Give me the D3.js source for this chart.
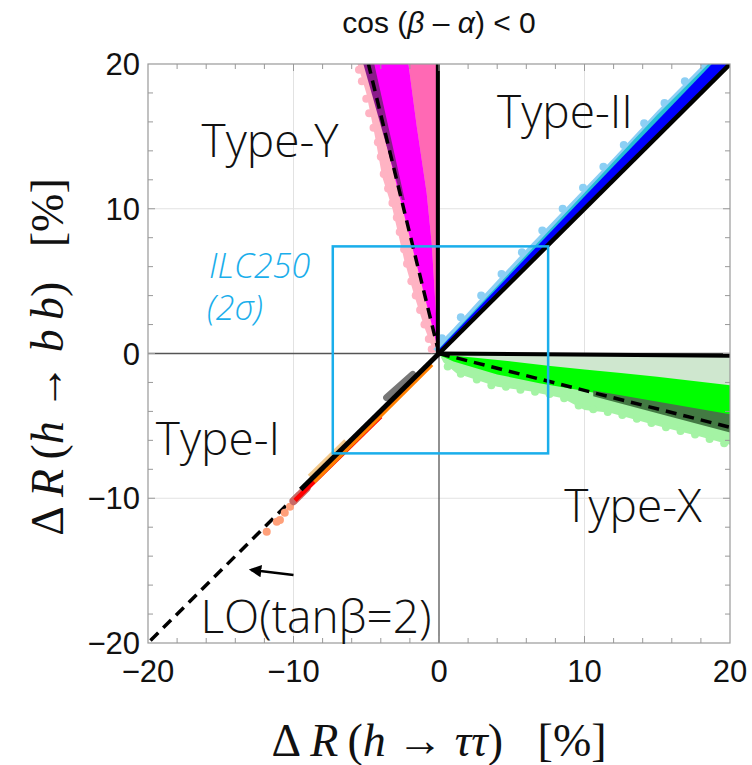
<!DOCTYPE html>
<html><head><meta charset="utf-8">
<script src="https://cdn.jsdelivr.net/npm/d3@7"></script>
<style>body{margin:0;background:#fff}</style>
</head><body>
<svg id="c" width="752" height="765"></svg>
<script>
// ---------- data (values in %) ----------
const xDomain = [-20, 20];
const yDomain = [-20, 20];
const xTickLabels = [-20, -10, 0, 10, 20];
const yTickLabels = [-20, -10, 0, 10, 20];
const gridValues = [-10, 10];

// Type-Y region (upper left)
const typeYPale = [[0,0],[-0.4,0.2],[-1.0,1.8],[-1.7,4],[-2.4,6.5],[-3.2,10],[-3.9,12.2],[-4.4,15],[-5.0,18],[-5.6,20],[0,20]];
const typeYPink = [[0,0],[-0.15,1.85],[-0.5,7.6],[-0.85,11.1],[-1.53,15.7],[-2.1,20],[0,20]];
const typeYMagenta = [[0,0],[-5.0,20],[-2.1,20],[-1.53,15.7],[-0.85,11.1],[-0.5,7.6],[-0.15,1.85]];
const typeYPurple = [[-2.55,10.6],[-5.2,20],[-4.45,20],[-2.35,10.6]];
const typeYDots = [[-5.5,19.6],[-5.3,18.8],[-5.0,17.6],[-4.8,16.6],[-4.5,15.6],[-4.2,14.6],[-4.0,13.6],[-3.8,12.4],[-3.5,11.4],[-3.2,10.4],[-2.9,9.4],[-2.7,8.4],[-2.4,7.2],[-2.2,6.2],[-1.9,5.0],[-1.6,4.0],[-1.3,3.0],[-1.0,2.0],[-0.7,1.0],[-0.5,0.3]];
const typeYLO = [[0,0],[-4.85,20]];

// Type-II region (upper right)
const typeIILight = [[0,0],[-0.4,0.3],[1,1.75],[3,3.95],[6,7.2],[9.8,11.2],[12,13.5],[15,16.75],[18.2,20],[20,20]];
const typeIICyan = [[0,0],[0,0.35],[5,5.75],[10,11.1],[15,16.5],[18.5,20],[20,20]];
const typeIIBlue = [[0,0],[0,0.3],[10,10.85],[18.75,20],[20,20]];
const typeIIDots = [[0.2,1.05],[1.5,2.5],[2.9,4.0],[4.3,5.5],[5.7,7.0],[7.1,8.5],[8.5,10.0],[9.9,11.45],[11.3,12.9],[12.7,14.4],[14.1,15.9],[15.5,17.3],[16.9,18.8],[18.2,20.1]];
const typeIILine = [[0,0],[20,20]];

// Type-X region (lower right)
const typeXPale = [[0,0],[0.3,-0.6],[1.2,-1.37],[4.0,-2.3],[6.25,-2.6],[8.5,-3.1],[10,-3.9],[11.75,-4.1],[15.4,-5.1],[18,-5.75],[20,-6.3],[20,-0.15]];
const typeXShade = [[0,0],[20,-0.15],[20,-2.4],[10,-1.2],[0,-0.1]];
const typeXGreen = [[0,-0.05],[2.5,-0.3],[5,-0.55],[7.5,-0.85],[10,-1.1],[12.5,-1.35],[15,-1.6],[17.5,-1.9],[20,-2.2],[20,-4.3],[15,-3.4],[10.6,-2.7],[6.9,-2.05],[4,-1.45],[1,-0.55],[0,-0.1]];
const typeXDark = [[10.6,-2.55],[20,-4.2],[20,-5.45],[10.6,-2.95]];
const typeXDots = [[0.6,-0.9],[1.5,-1.4],[2.6,-1.8],[3.6,-2.2],[4.6,-2.3],[5.6,-2.5],[6.6,-2.65],[7.6,-2.8],[8.6,-3.1],[9.6,-3.6],[10.6,-3.85],[11.6,-4.05],[12.6,-4.25],[13.6,-4.5],[14.6,-4.8],[15.6,-5.1],[16.6,-5.35],[17.6,-5.6],[18.6,-5.9],[19.6,-6.2]];
const typeXLO = [[0,0],[20,-5.1]];
const typeXLine = [[0,0],[20,-0.15]];
const typeYLine = [[-0.08,0],[-0.08,20]];

// Type-I region (lower left)
const typeIOrange = [[-0.5,-0.75],[-8.6,-8.85]];
const typeIRed = [[-4,-4.35],[-9.9,-10.15]];
const typeITan = [[-6.4,-6.05],[-8.9,-8.5]];
const typeIGray = [[-1.8,-1.45],[-3.6,-3.05]];
const typeIBrown = [[-9.1,-9.3],[-10.0,-10.2]];
const typeILine = [[0,0],[-9.5,-9.4]];
const typeISalmon = [[-10.24,-10.58],[-10.93,-11.5],[-11.15,-11.62],[-11.84,-12.31],[-10.6,-11.0]];
const loLine = [[0,0],[-20,-20]];

// ILC250 2-sigma box
const ilcX = [-7.3, 7.5];
const ilcY = [-6.9, 7.4];

// LO arrow
const arrowFrom = [-10.0, -15.3];
const arrowTo = [-12.9, -14.95];

// ---------- drawing ----------
const svg = d3.select("#c");
const x = d3.scaleLinear().domain(xDomain).range([148, 730]);
const y = d3.scaleLinear().domain(yDomain).range([643, 64]);
const line = d3.line().x(d => x(d[0])).y(d => y(d[1]));
const poly = d3.line().x(d => x(d[0])).y(d => y(d[1])).curve(d3.curveLinearClosed);

svg.append("defs").append("clipPath").attr("id","clip")
  .append("rect").attr("x",148).attr("y",64).attr("width",582).attr("height",579);
svg.select("defs").append("marker").attr("id","arr").attr("viewBox","0 0 10 10")
  .attr("refX",8).attr("refY",5).attr("markerWidth",5).attr("markerHeight",5).attr("orient","auto")
  .append("path").attr("d","M0,0 L10,5 L0,10 z").attr("fill","#000");

const g = svg.append("g").attr("clip-path","url(#clip)");
const dash = "11,7";

// grid
g.selectAll(".gx").data(gridValues).join("line")
  .attr("x1",d=>x(d)).attr("x2",d=>x(d)).attr("y1",y(-20)).attr("y2",y(20))
  .attr("stroke","#e2e2e2").attr("stroke-width",1);
g.selectAll(".gy").data(gridValues).join("line")
  .attr("y1",d=>y(d)).attr("y2",d=>y(d)).attr("x1",x(-20)).attr("x2",x(20))
  .attr("stroke","#e2e2e2").attr("stroke-width",1);
// axes through zero
g.append("line").attr("x1",x(0)).attr("x2",x(0)).attr("y1",y(-20)).attr("y2",y(20)).attr("stroke","#555").attr("stroke-width",1.3);
g.append("line").attr("y1",y(0)).attr("y2",y(0)).attr("x1",x(-20)).attr("x2",x(20)).attr("stroke","#555").attr("stroke-width",1.3);

// LO dashed line Type-I
g.append("path").attr("d",line(loLine)).attr("fill","none").attr("stroke","#000").attr("stroke-width",3.5).attr("stroke-dasharray",dash);

// Type-Y
g.append("path").attr("d",poly(typeYPale)).attr("fill","#ffb3c3");
g.selectAll(".yd").data(typeYDots).join("circle").attr("cx",d=>x(d[0])).attr("cy",d=>y(d[1])).attr("r",4).attr("fill","#ffb3c3");
g.append("path").attr("d",poly(typeYPink)).attr("fill","#ff69b4");
g.append("path").attr("d",poly(typeYMagenta)).attr("fill","#ff00ff");
g.append("path").attr("d",poly(typeYPurple)).attr("fill","#8b1a8b");
g.append("path").attr("d",line(typeYLO)).attr("fill","none").attr("stroke","#000").attr("stroke-width",3.5).attr("stroke-dasharray",dash);

// Type-II
g.append("path").attr("d",poly(typeIILight)).attr("fill","#8ccff4");
g.selectAll(".id").data(typeIIDots).join("circle").attr("cx",d=>x(d[0])).attr("cy",d=>y(d[1])).attr("r",4).attr("fill","#8ccff4");
g.append("path").attr("d",poly(typeIICyan)).attr("fill","#25bcd6");
g.append("path").attr("d",poly(typeIIBlue)).attr("fill","#0000ff");
g.append("path").attr("d",line(typeIILine)).attr("fill","none").attr("stroke","#000").attr("stroke-width",4.5);

// Type-X
g.append("path").attr("d",poly(typeXPale)).attr("fill","#a4f3a4");
g.selectAll(".xd").data(typeXDots).join("circle").attr("cx",d=>x(d[0])).attr("cy",d=>y(d[1])).attr("r",4).attr("fill","#a4f3a4");
g.append("path").attr("d",poly(typeXShade)).attr("fill","#cfe7cf");
g.append("path").attr("d",poly(typeXGreen)).attr("fill","#00ff00");
g.append("path").attr("d",poly(typeXDark)).attr("fill","#437a43");
g.append("path").attr("d",line(typeXLO)).attr("fill","none").attr("stroke","#000").attr("stroke-width",3.5).attr("stroke-dasharray",dash);
g.append("path").attr("d",line(typeXLine)).attr("fill","none").attr("stroke","#000").attr("stroke-width",4);
g.append("path").attr("d",line(typeYLine)).attr("fill","none").attr("stroke","#000").attr("stroke-width",4);

// Type-I
g.selectAll(".sd").data(typeISalmon).join("circle").attr("cx",d=>x(d[0])).attr("cy",d=>y(d[1])).attr("r",4).attr("fill","#ffa07a");
g.append("path").attr("d",line(typeIBrown)).attr("fill","none").attr("stroke","#c86a66").attr("stroke-width",8).attr("stroke-linecap","round");
g.append("path").attr("d",line(typeIRed)).attr("fill","none").attr("stroke","#ff0000").attr("stroke-width",4.5);
g.append("path").attr("d",line(typeIOrange)).attr("fill","none").attr("stroke","#ff7f00").attr("stroke-width",4.5);
g.append("path").attr("d",line(typeITan)).attr("fill","none").attr("stroke","#f3c98b").attr("stroke-width",5);
g.append("path").attr("d",line(typeIGray)).attr("fill","none").attr("stroke","#777").attr("stroke-width",7).attr("stroke-linecap","round");
g.append("path").attr("d",line(typeILine)).attr("fill","none").attr("stroke","#000").attr("stroke-width",5);

// ILC box
svg.append("rect").attr("x",x(ilcX[0])).attr("y",y(ilcY[1]))
  .attr("width",x(ilcX[1])-x(ilcX[0])).attr("height",y(ilcY[0])-y(ilcY[1]))
  .attr("fill","none").attr("stroke","#1aaeeb").attr("stroke-width",2.5);

// frame + ticks
svg.append("rect").attr("x",148).attr("y",64).attr("width",582).attr("height",579)
  .attr("fill","none").attr("stroke","#999").attr("stroke-width",1.2);
const minor = x.ticks(20).filter(v => v > -20 && v < 20);
const tk = svg.append("g").attr("stroke","#999").attr("stroke-width",1);
minor.forEach(v => {
  const L = (v % 10 === 0) ? 7 : 5;
  tk.append("line").attr("x1",x(v)).attr("x2",x(v)).attr("y1",643).attr("y2",643-L);
  tk.append("line").attr("x1",x(v)).attr("x2",x(v)).attr("y1",64).attr("y2",64+L);
  tk.append("line").attr("y1",y(v)).attr("y2",y(v)).attr("x1",148).attr("x2",148+L);
  tk.append("line").attr("y1",y(v)).attr("y2",y(v)).attr("x1",730).attr("x2",730-L);
});

// tick labels
const fmt = d3.format("d");
const labFont = "'Liberation Sans', Arial, sans-serif";
svg.selectAll(".xl").data(xTickLabels).join("text")
  .attr("x",d=>x(d)).attr("y",682).attr("text-anchor","middle")
  .attr("font-family",labFont).attr("font-size",31).attr("fill","#111").text(d=>fmt(d));
svg.selectAll(".yl").data(yTickLabels).join("text")
  .attr("x",140).attr("y",d=>y(d)+11).attr("text-anchor","end")
  .attr("font-family",labFont).attr("font-size",31).attr("fill","#111").text(d=>fmt(d));

// title
const t = svg.append("text").attr("x",439).attr("y",33).attr("text-anchor","middle")
  .attr("font-family",labFont).attr("font-size",30).attr("fill","#111");
t.append("tspan").text("cos (");
t.append("tspan").attr("font-style","italic").text("β");
t.append("tspan").text(" – ");
t.append("tspan").attr("font-style","italic").text("α");
t.append("tspan").text(") < 0");

// axis titles
const serif = "'Liberation Serif', 'Times New Roman', serif";
function axisTitle(sel, parts){
  parts.forEach(p => sel.append("tspan").attr("font-style", p[1] ? "italic" : "normal").text(p[0]));
}
const xt = svg.append("text").attr("x",439).attr("y",756).attr("text-anchor","middle")
  .attr("font-family",serif).attr("font-size",46).attr("fill","#111").attr("xml:space","preserve");
axisTitle(xt, [["Δ",0],["\u2009R",1],["\u2009(",0],["h",1],[" → ",0],["ττ",1],[")   [%]",0]]);
const yt = svg.append("text").attr("transform","translate(63,357) rotate(-90)").attr("text-anchor","middle")
  .attr("font-family",serif).attr("font-size",46).attr("fill","#111").attr("xml:space","preserve");
axisTitle(yt, [["Δ",0],["\u2009R",1],["\u2009(",0],["h",1],[" → ",0],["b\u2009b",1],[")   [%]",0]]);

// region labels
const lf = "'Open Sans', Lato, sans-serif";
function lab(txt, px, py, anchor){
  svg.append("text").attr("x",px).attr("y",py).attr("text-anchor",anchor||"middle")
    .attr("font-family",lf).attr("font-weight",300).attr("font-size",46).attr("fill","#111").text(txt);
}
lab("Type-Y", 270, 157);
lab("Type-II", 565, 128);
lab("Type-I", 218, 455);
lab("Type-X", 633, 522);
lab("LO(tanβ=2)", 316, 633);

svg.append("text").attr("x",209).attr("y",278).attr("font-family",lf).attr("font-weight",300)
  .attr("font-style","italic").attr("font-size",34).attr("fill","#1aaeeb").text("ILC250");
svg.append("text").attr("x",207).attr("y",320).attr("font-family",lf).attr("font-weight",300)
  .attr("font-style","italic").attr("font-size",34).attr("fill","#1aaeeb").text("(2σ)");

// arrow
svg.append("line").attr("x1",x(arrowFrom[0])).attr("y1",y(arrowFrom[1]))
  .attr("x2",x(arrowTo[0])).attr("y2",y(arrowTo[1]))
  .attr("stroke","#000").attr("stroke-width",2.5).attr("marker-end","url(#arr)");
</script>
</body></html>
